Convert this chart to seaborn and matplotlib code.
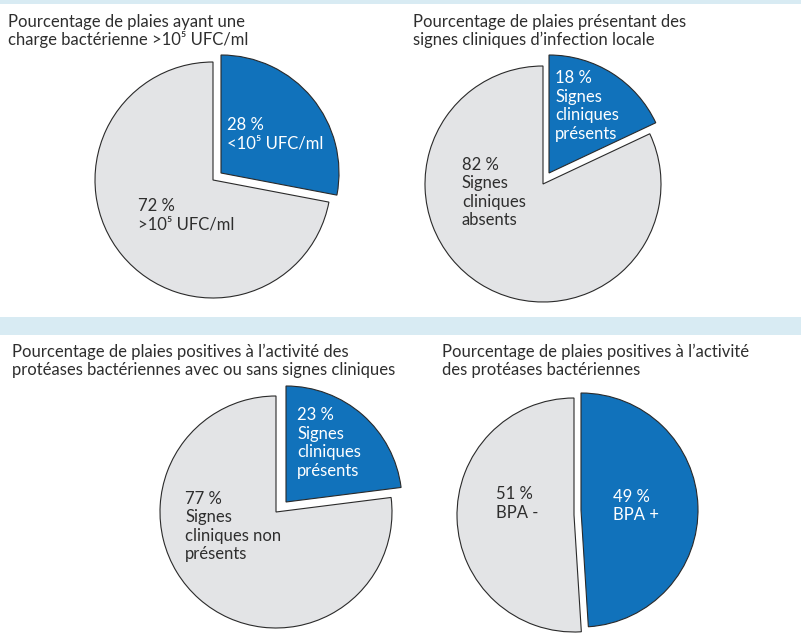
import matplotlib
matplotlib.use("Agg")
import matplotlib.pyplot as plt
from matplotlib.patches import Rectangle
import seaborn as sns

# ---------------- data ----------------
titles = [
    ["Pourcentage de plaies ayant une", "charge bactérienne >10\u2075 UFC/ml"],
    ["Pourcentage de plaies présentant des", "signes cliniques d\u2019infection locale"],
    ["Pourcentage de plaies positives à l\u2019activité des",
     "protéases bactériennes avec ou sans signes cliniques"],
    ["Pourcentage de plaies positives à l\u2019activité", "des protéases bactériennes"],
]
blue_values = [28, 18, 23, 49]
grey_values = [72, 82, 77, 51]
blue_labels = [
    "<10\u2075 UFC/ml",
    "Signes\ncliniques\nprésents",
    "Signes\ncliniques\nprésents",
    "BPA +",
]
grey_labels = [
    ">10\u2075 UFC/ml",
    "Signes\ncliniques\nabsents",
    "Signes\ncliniques non\nprésents",
    "BPA -",
]

# ---------------- style ----------------
sns.set_theme(style="white")
plt.rcParams["font.family"] = ["Lato", "DejaVu Sans"]
BLUE = "#1172bb"
GREY = "#e3e4e6"
EDGE = "#2a2a2a"
TXT = "#2e2e2e"
BAND = "#d8ebf3"
palette = sns.color_palette([BLUE, GREY])

W, H = 801, 638
fig = plt.figure(figsize=(W / 100, H / 100), dpi=100)
fig.patch.set_facecolor("white")

# bands
for y0, y1 in [(0, 4), (317, 335)]:
    fig.patches.append(Rectangle((0, 1 - y1 / H), 1, (y1 - y0) / H,
                                 transform=fig.transFigure, facecolor=BAND,
                                 edgecolor="none", zorder=0))

# geometry in pixels (layout only)
centers = [(213, 180), (543, 184), (276, 512), (574, 515)]
radii = [118, 118, 116, 117]
offsets = [(8, -7), (6, -11), (10, -10), (7, -5)]
title_pos = [(8, 27), (413, 27), (12, 357), (442, 357)]
title_gap = 18
blue_txt = [(227, 134.5), (555, 106), (297, 443), (613, 506)]
grey_txt = [(138, 215), (462, 192.5), (185, 526.5), (496, 503.5)]
FS = 12

for i in range(4):
    cx, cy = centers[i]
    r = radii[i]
    L = 1.25 * r
    ax = fig.add_axes([(cx - L) / W, (H - cy - L) / H, 2 * L / W, 2 * L / H])
    wedges, _ = ax.pie([blue_values[i], grey_values[i]], colors=palette,
                       startangle=90, counterclock=False,
                       wedgeprops=dict(edgecolor=EDGE, linewidth=0.8))
    dx, dy = offsets[i]
    wedges[0].set_center((dx / r, -dy / r))
    ax.set_xlim(-1.25, 1.25)
    ax.set_ylim(-1.25, 1.25)
    ax.set_aspect("equal")
    ax.axis("off")

    bx, by = blue_txt[i]
    ax.text((bx - cx) / r, (cy - by) / r,
            f"{blue_values[i]} %\n{blue_labels[i]}",
            color="white", fontsize=FS, ha="left", va="center",
            linespacing=1.2)
    gx, gy = grey_txt[i]
    ax.text((gx - cx) / r, (cy - gy) / r,
            f"{grey_values[i]} %\n{grey_labels[i]}",
            color=TXT, fontsize=FS, ha="left", va="center",
            linespacing=1.2)

    tx, ty = title_pos[i]
    for k, line in enumerate(titles[i]):
        fig.text(tx / W, 1 - (ty + k * title_gap) / H, line, color=TXT,
                 fontsize=FS, ha="left", va="baseline")

fig.savefig("out.png", dpi=100, facecolor="white")
